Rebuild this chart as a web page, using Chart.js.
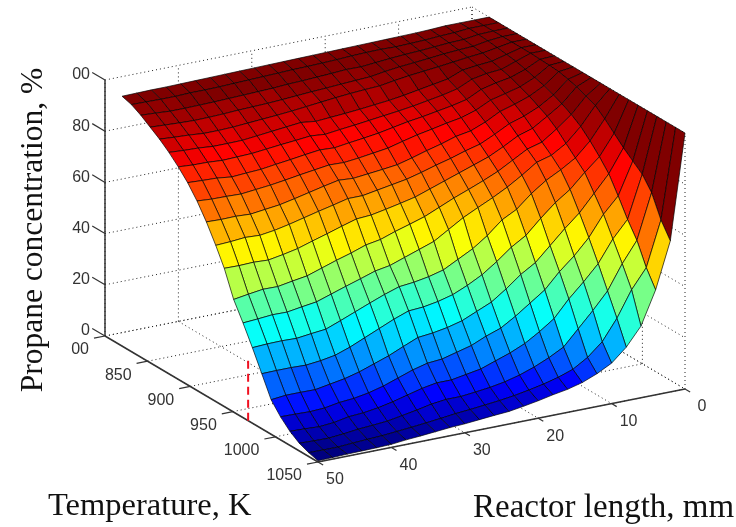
<!DOCTYPE html>
<html>
<head>
<meta charset="utf-8">
<style>html,body{margin:0;padding:0;background:#fff}canvas{display:block}</style>
<script src="https://cdn.jsdelivr.net/npm/chart.js@4"></script>
</head>
<body>
<canvas id="c" width="736" height="527"></canvas>
<script>
const temperatures = [820,831,842,853,864,875,886,897,908,919,930,940,951,962,973,984,995,1006,1017,1028,1039,1050];
const lengths = [0,2,4,6,8,10,12,14,16,18,20,22,24,26,28,30,32,34,36,38,40,42,44,46,48,50];
const tempTicks = [800,850,900,950,1000,1050];
const tempTickLabels = ["00","850","900","950","1000","1050"];
const lengthTicks = [0,10,20,30,40,50];
const lengthTickLabels = ["0","10","20","30","40","50"];
const concTicks = [0,20,40,60,80,100];
const concTickLabels = ["0","20","40","60","80","00"];
const marker = {temperature:968, length:50, from:0, to:24.5};

const L0 = [100,100,100,100,100,100,100,100,100,100,100,100,100,100,100,100,100,100,100,100,100,100];
const L2 = [100,100,100,100,100,100,100,99.8,99.6,99.3,98.5,97.5,96,94.5,91.5,88,84.5,81.5,78.5,73.5,65,59];
const L4 = [100,100,99.8,99.5,99,98.5,98,97,96,95,93.5,92,90,87.5,84,80,75.5,69,62,56,47.5,41];
const L6 = [100,99.5,99,98.5,98,97,96,95,93.5,92,90,88.3,85.5,82,78.5,75,69,63,55.5,48,40,28];
const L8 = [99.7,99.3,98.8,98.2,97.5,96.5,95.5,94,92,90,87.5,84.7,81.5,78.5,75,69.5,62.5,55,47,38.5,30,20.9];
const L10 = [99.5,98.9,98.4,97.8,96.8,95.8,94.4,92.6,90.6,88.3,85.7,82.9,79.9,76.9,72,65.5,57.5,49,41,32,22,15.8];
const L12 = [99.4,98.7,98,97.2,96.1,93.5,91.8,89.8,87.8,85.3,82.7,79.8,76.7,73,68,60.5,52,44,35.5,26,17,12.8];
const L14 = [99.3,98.5,97.7,96.7,95.5,92.5,90.5,88.5,86,83,80,77,73.5,69.5,63,55,46.5,38,29,20,13.5,10.5];
const L16 = [99.2,98.7,97.3,96.2,94.9,91.5,89.5,87.5,85,82,78.5,75,71,66.5,60,51.5,43,34,25,17,11.5,9];
const L18 = [99.1,98.6,96.8,95.5,94.1,90.5,88.5,86.5,83.8,80.2,76.7,73,68.7,63.8,55,47,38.5,30,21.5,14.5,10,8];
const L20 = [99,98.4,96.3,94.6,93.2,89.7,87.7,85.7,82.7,78.7,75.2,71,66.5,61,51,43,34.5,26.5,19,12.5,8.8,6.8];
const L22 = [98.9,98.1,96.4,94.3,92.9,89.1,87,84.6,81.3,77,73.5,69,64,57.5,48,40,32,24.5,17,11,7.8,5.8];
const L24 = [98.8,97.9,96,94,92.5,88.5,86.3,83.5,79.8,75.5,72,67,61.5,54,45,37.5,29.5,22,15,10,7,4.9];
const L26 = [98.7,97.7,95.7,93.6,92,88,85.6,82.7,79,74.8,71,65.7,59.7,52,43.5,36,28,20.5,14,9.3,6.4,4.5];
const L28 = [98.6,97.6,95.4,93.3,91.4,87.6,85,82,78.2,74.2,70,64.5,58,50,42.5,35,27,19,13,8.7,5.8,4];
const L30 = [98.5,97.4,95.2,92.9,90.8,87.2,84.3,81.2,77.6,73.6,69,63.4,56,48,41.9,34.6,26.4,18.5,13,8.7,5.3,3.5];
const L32 = [98.4,97.2,94.8,92.5,90.2,87.9,84.8,81.5,77.8,74,69,63,55,47,40,32.5,24,17,12,8,4.6,3.2];
const L34 = [98.3,97,94.6,92.2,89.7,87.3,84.2,80.8,77,72.8,67.6,61.3,53,45.1,37.8,30,21.5,15,10.5,6.8,4,2.7];
const L36 = [98.2,96.8,94.4,92,89.3,86.7,83.7,80,76.2,71.5,66.3,59.5,51.3,43.3,35.5,27.5,19.5,13,9,5.8,3.4,2.2];
const L38 = [98.1,96.6,94.2,91.8,88.9,86.1,83.1,79.3,75.3,70.2,64.9,57.8,49.4,41.4,33.2,25,17.5,11.5,7.8,4.8,2.9,1.8];
const L40 = [98,96.5,94,91.5,88.5,85.5,82.5,78.5,74.5,69,63.5,56,47.5,39.5,31,23,16,10.5,7,4.3,2.4,1.2];
const L42 = [97.9,96.5,93.9,91.3,88.3,85.4,82.3,78.2,73.9,68.3,62.3,54.8,46.6,38.7,30.4,22,15,10,6.6,3.9,2.1,1];
const L44 = [97.8,96.3,93.8,91.2,88.3,85.4,82.1,77.8,73.3,67.6,61.5,53.8,45.6,37.8,29.7,21.4,14,9,5.5,3.2,1.8,0.9];
const L46 = [97.8,96.3,93.8,91.4,88.8,85.9,82.5,78.5,73.5,67.9,61.8,54.1,45.7,37.9,29.9,21.6,14.1,8.7,5,2.7,1.4,0.8];
const L48 = [97.7,96.4,94.2,91.7,89.1,86.1,82.6,78.7,73.6,67.8,61.3,53.9,44.9,37.4,29.8,21.6,14.1,8.9,5.3,2.8,1.4,0.6];
const L50 = [97.6,96.5,94.5,92,89.5,86.5,83,79,74,68,61,54,44,37,29.5,21.5,13.5,9,5.5,3,1.5,0.5];
const columns = [L0,L2,L4,L6,L8,L10,L12,L14,L16,L18,L20,L22,L24,L26,L28,L30,L32,L34,L36,L38,L40,L42,L44,L46,L48,L50];

// Orthographic view of the 3-D box (temperature, length, concentration) onto the plane
function project(T, L, z) {
  const t = (T - 800) / 250, m = 1 - L / 50;
  return {x: 105 + 213 * t + 367 * m, y: 336 + 126 * t - 73 * m - 2.56 * z};
}
function jet(z) {
  const v = Math.min(63, Math.floor(z / 98 * 64)) / 63;
  const c = f => Math.round(255 * Math.max(0, Math.min(1, f)));
  return `rgb(${c(1.5 - Math.abs(4 * v - 3))},${c(1.5 - Math.abs(4 * v - 2))},${c(1.5 - Math.abs(4 * v - 1))})`;
}
const base = {showLine:true, pointRadius:0, pointHitRadius:0, tension:0, clip:false, spanGaps:true};
const drawList = [];
function addLine(a, b, color, width, dash) {
  drawList.push({...base, data:[project(...a), project(...b)], borderColor:color, borderWidth:width, borderDash:dash||[], fill:false});
}
const dotted = [1,3], dotColor = '#222';
concTicks.forEach(z => {
  addLine([800,50,z],[800,0,z],dotColor,1,dotted);
  addLine([800,0,z],[1050,0,z],dotColor,1,dotted);
});
lengthTicks.forEach(L => {
  addLine([800,L,0],[800,L,100],dotColor,1,dotted);
  addLine([800,L,0],[1050,L,0],dotColor,1,dotted);
});
tempTicks.forEach(T => {
  addLine([T,0,0],[T,0,100],dotColor,1,dotted);
  addLine([T,50,0],[T,0,0],dotColor,1,dotted);
});
addLine([800,50,0],[800,50,100],'#333',1.5);
addLine([800,50,0],[1050,50,0],'#333',1.5);
addLine([1050,50,0],[1050,0,0],'#333',1.5);
concTicks.forEach(z => addLine([800,50,z],[785,50,z],'#333',1.2));
tempTicks.forEach(T => addLine([T,50,0],[T,51.5,0],'#333',1.2));
lengthTicks.forEach(L => addLine([1050,L,0],[1056,L,0],'#333',1.2));

for (let i = 0; i < temperatures.length - 1; i++) {
  for (let j = 0; j < lengths.length - 1; j++) {
    const n = (a, b) => project(temperatures[a], lengths[b], columns[b][a]);
    drawList.push({...base, data:[n(i,j),n(i+1,j),n(i+1,j+1),n(i,j+1),n(i,j)],
      borderColor:'rgba(0,0,0,0.75)', borderWidth:0.9, backgroundColor:jet(columns[j][i]), fill:'shape'});
  }
}
addLine([marker.temperature,marker.length,marker.from],[marker.temperature,marker.length,marker.to],'#f01020',2,[8,5]);

const labelPlugin = {
  id:'labels',
  afterDraw(chart) {
    const {ctx, scales:{x, y}} = chart;
    const at = p => [x.getPixelForValue(p.x), y.getPixelForValue(p.y)];
    ctx.save();
    ctx.fillStyle = '#333';
    ctx.font = '16px "Liberation Sans"';
    ctx.textBaseline = 'middle';
    ctx.textAlign = 'right';
    concTicks.forEach((z,k) => { const [a,b] = at(project(800,50,z)); ctx.fillText(concTickLabels[k], a-15, b-5); });
    tempTicks.forEach((T,k) => { const [a,b] = at(project(T,50,0)); ctx.fillText(tempTickLabels[k], a-16, b+14); });
    ctx.textAlign = 'center';
    lengthTicks.forEach((L,k) => { const [a,b] = at(project(1050,L,0)); ctx.fillText(lengthTickLabels[k], a+17, b+18); });
    ctx.fillStyle = '#111';
    ctx.textBaseline = 'alphabetic';
    ctx.textAlign = 'left';
    ctx.font = '32.5px "Liberation Serif"';
    ctx.fillText('Temperature, K', 48, 515);
    ctx.font = '33px "Liberation Serif"';
    ctx.fillText('Reactor length, mm', 473, 517);
    ctx.translate(42, 230);
    ctx.rotate(-Math.PI/2);
    ctx.textAlign = 'center';
    ctx.font = '31.5px "Liberation Serif"';
    ctx.fillText('Propane concentration, %', 0, 0);
    ctx.restore();
  }
};

new Chart(document.getElementById('c'), {
  type:'scatter',
  data:{datasets:drawList.slice().reverse()},
  options:{
    responsive:false, animation:false, events:[],
    layout:{padding:0},
    plugins:{legend:{display:false}, tooltip:{enabled:false}},
    scales:{
      x:{type:'linear', min:0, max:736, display:false},
      y:{type:'linear', min:0, max:527, reverse:true, display:false}
    }
  },
  plugins:[labelPlugin]
});
</script>
</body>
</html>
